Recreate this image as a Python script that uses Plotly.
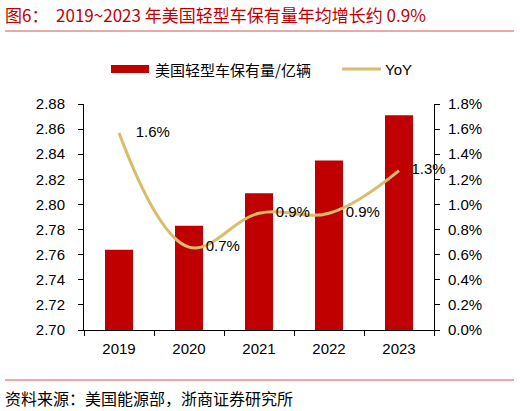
import plotly.graph_objects as go

years = ["2019", "2020", "2021", "2022", "2023"]
stock = [2.764, 2.783, 2.809, 2.835, 2.871]
yoy = [0.0157, 0.0066, 0.0093, 0.0093, 0.0127]
yoy_labels = ["    1.6%", "    0.7%", "    0.9%", "    0.9%", "   1.3%"]

left_ticks = [2.70, 2.72, 2.74, 2.76, 2.78, 2.80, 2.82, 2.84, 2.86, 2.88]
right_ticks = [0.0, 0.002, 0.004, 0.006, 0.008, 0.010, 0.012, 0.014, 0.016, 0.018]

bar_color = "#C00000"
line_color = "#D9BD6A"
font_main = "Liberation Sans, Arial, Noto Sans CJK SC, sans-serif"
font_cjk = "Noto Sans CJK SC, sans-serif"

# plot area in pixels: x 84..434, y 104..330
def px(x):
    return (x - 84) / 350


def py(y):
    return (330 - y) / 226


fig = go.Figure()
fig.add_trace(go.Bar(
    x=years, y=stock, name="美国轻型车保有量/亿辆",
    marker=dict(color=bar_color, line=dict(width=0)),
    width=0.4,
))
fig.add_trace(go.Scatter(
    x=years, y=yoy, name="YoY", yaxis="y2",
    mode="lines+text", text=yoy_labels, textposition="middle right",
    textfont=dict(size=15, color="#000000", family=font_main),
    line=dict(color=line_color, width=3, shape="spline", smoothing=1.1),
    cliponaxis=False,
))

fig.update_layout(
    width=520, height=411,
    margin=dict(l=84, r=86, t=104, b=81, autoexpand=False),
    paper_bgcolor="white", plot_bgcolor="white",
    font=dict(family=font_main, size=15, color="#000000"),
    showlegend=False,
    xaxis=dict(
        type="category", showline=True, linecolor="#000000", linewidth=1,
        ticks="outside", tickson="boundaries", ticklen=5, tickcolor="#000000",
        showgrid=False, tickfont=dict(size=15), ticklabelstandoff=5,
    ),
    yaxis=dict(
        range=[2.70, 2.88], tickvals=left_ticks, tickformat=".2f",
        showline=True, linecolor="#000000", linewidth=1,
        ticks="outside", ticklen=5, tickcolor="#000000",
        showgrid=False, zeroline=False, tickfont=dict(size=15),
        ticklabelstandoff=10,
    ),
    yaxis2=dict(
        range=[0, 0.018], tickvals=right_ticks, tickformat=".1%",
        overlaying="y", side="right",
        showline=True, linecolor="#000000", linewidth=1,
        ticks="outside", ticklen=5, tickcolor="#000000",
        showgrid=False, zeroline=False, tickfont=dict(size=15),
        ticklabelstandoff=5,
    ),
)

# legend drawn by hand so the swatches look like the original
fig.add_shape(type="rect", xref="paper", yref="paper",
              x0=px(111), x1=px(149), y0=py(73), y1=py(65),
              fillcolor=bar_color, line=dict(width=0))
fig.add_annotation(text="美国轻型车保有量/亿辆", xref="paper", yref="paper",
                   x=px(153), y=py(69), xanchor="left", yanchor="middle",
                   showarrow=False, font=dict(size=15, family=font_cjk))
fig.add_shape(type="line", xref="paper", yref="paper",
              x0=px(342), x1=px(381), y0=py(69), y1=py(69),
              line=dict(color=line_color, width=3))
fig.add_annotation(text="YoY", xref="paper", yref="paper",
                   x=px(383), y=py(69), xanchor="left", yanchor="middle",
                   showarrow=False, font=dict(size=15, family=font_main))

# title and source
fig.add_annotation(
    text="图6：  2019~2023 年美国轻型车保有量年均增长约 0.9%",
    xref="paper", yref="paper", x=px(3), y=py(15),
    xanchor="left", yanchor="middle", showarrow=False,
    font=dict(size=17, color=bar_color, family=font_cjk),
)
fig.add_annotation(
    text="资料来源：美国能源部，浙商证券研究所",
    xref="paper", yref="paper", x=px(3), y=py(398),
    xanchor="left", yanchor="middle", showarrow=False,
    font=dict(size=16, color="#000000", family=font_cjk),
)
fig.add_shape(type="line", xref="paper", yref="paper",
              x0=px(5), x1=px(514), y0=py(31), y1=py(31),
              line=dict(color="#D9534F", width=1))
fig.add_shape(type="line", xref="paper", yref="paper",
              x0=px(5), x1=px(514), y0=py(380), y1=py(380),
              line=dict(color="#D9534F", width=1))

# drop the browser's default body margin so the figure sits at 0,0
fig.write_html("out.html", config={"displayModeBar": False},
               post_script="document.body.style.margin='0';")
